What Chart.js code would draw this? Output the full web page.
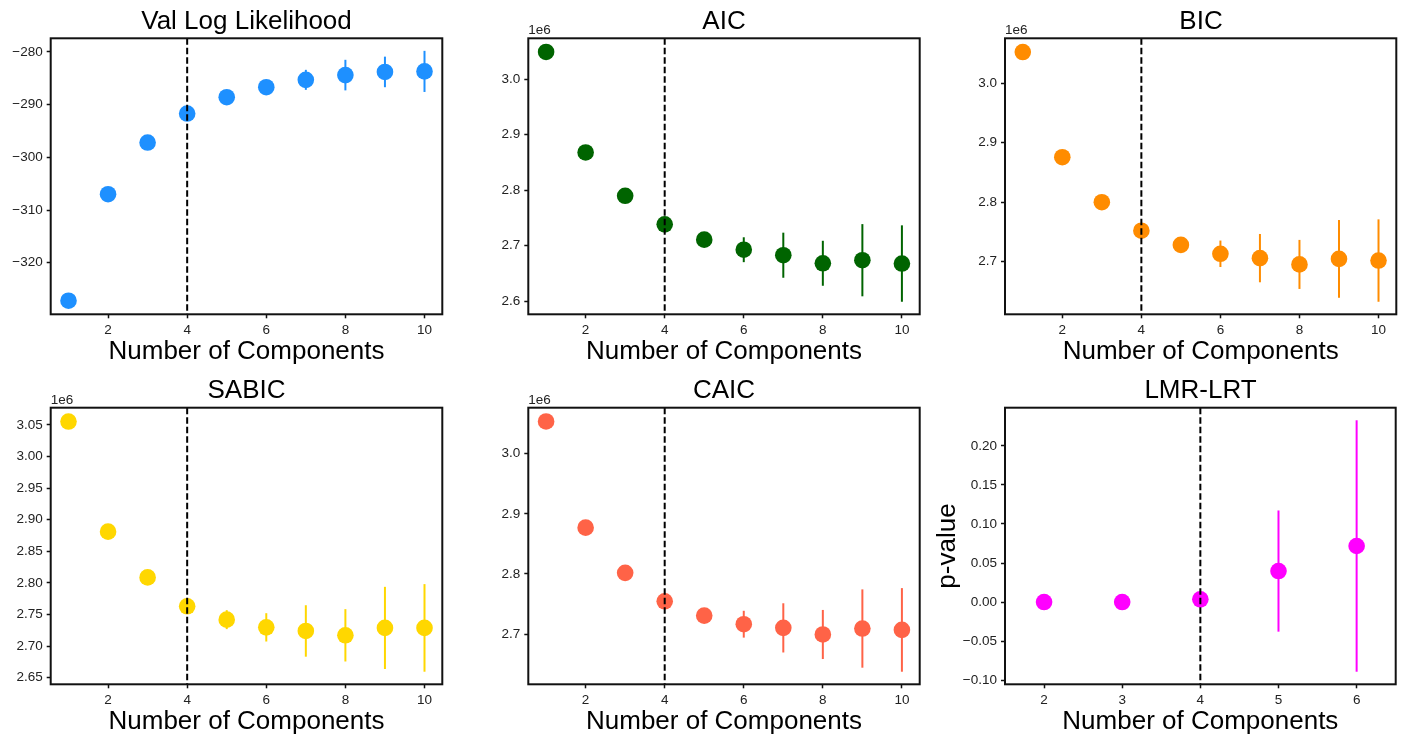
<!DOCTYPE html>
<html>
<head>
<meta charset="utf-8">
<title>Model selection criteria</title>
<script src="https://cdn.jsdelivr.net/npm/chart.js@4.4.1/dist/chart.umd.min.js"></script>
<style>
  body { margin: 0; background: #fff; }
  #wrap { position: relative; width: 1403px; height: 737px; overflow: hidden; background: #fff; }
  #wrap canvas { position: absolute; }
</style>
</head>
<body>
<div id="wrap"></div>
<script>
// ---------- DATA ----------
const components = [1, 2, 3, 4, 5, 6, 7, 8, 9, 10];
const lmrComponents = [2, 3, 4, 5, 6];
const chosenK = 4;

const valLogLik    = [-327.2, -307.0, -297.2, -291.7, -288.6, -286.7, -285.3, -284.4, -283.8, -283.7];
const valLogLikErr = [0.2, 0.2, 0.3, 0.3, 0.5, 0.6, 1.9, 2.9, 2.9, 3.9];

const aic    = [3049000, 2868000, 2790000, 2738600, 2711000, 2692900, 2683000, 2668500, 2674000, 2668000];
const aicErr = [2000, 3000, 4000, 6000, 10000, 22400, 40600, 40500, 65000, 68800];

const bic    = [3052800, 2875600, 2799800, 2751800, 2727900, 2712900, 2705600, 2695000, 2704300, 2701500];
const bicErr = [2000, 3000, 4000, 6000, 10000, 22300, 40700, 41300, 65500, 69400];

const sabic    = [3055200, 2881000, 2808600, 2762900, 2741800, 2729600, 2723900, 2717000, 2728700, 2728700];
const sabicErr = [2000, 3000, 4000, 6000, 15000, 22400, 40700, 41400, 65000, 69300];

const caic    = [3053500, 2877000, 2801900, 2754600, 2730800, 2716500, 2710400, 2699400, 2709300, 2707000];
const caicErr = [2000, 3000, 4000, 6000, 10000, 22300, 40900, 40800, 65100, 69500];

const lmrP    = [0.0, 0.0, 0.0035, 0.0397, 0.0718];
const lmrPErr = [0.0, 0.0, 0.002, 0.0776, 0.161];

// ---------- TICKS ----------
const xTicks = [2, 4, 6, 8, 10];
const lmrXTicks = [2, 3, 4, 5, 6];
const llTicks = [-320, -310, -300, -290, -280];
const aicTicks = [2600000, 2700000, 2800000, 2900000, 3000000];
const bicTicks = [2700000, 2800000, 2900000, 3000000];
const sabicTicks = [2650000, 2700000, 2750000, 2800000, 2850000, 2900000, 2950000, 3000000, 3050000];
const caicTicks = [2700000, 2800000, 2900000, 3000000];
const lmrTicks = [-0.10, -0.05, 0, 0.05, 0.10, 0.15, 0.20];

// ---------- LAYOUT (axes boxes in page pixels) ----------
const FONT = "'Liberation Sans', Arial, 'Helvetica Neue', sans-serif";
const BIG = 26;
const SMALL = 13.5;
const TEXT = "#222";

const panels = [
    { title: "Val Log Likelihood", x: components, y: valLogLik, err: valLogLikErr, color: "#1E90FF",
      xTicks: xTicks, yTicks: llTicks, div: 1, digits: 0, offset: "",
      box: [50.7, 38.3, 442.3, 314.3], yw: 50 },
    { title: "AIC", x: components, y: aic, err: aicErr, color: "#006400",
      xTicks: xTicks, yTicks: aicTicks, div: 1e6, digits: 1, offset: "1e6",
      box: [528.3, 38.3, 919.7, 314.3], yw: 66 },
    { title: "BIC", x: components, y: bic, err: bicErr, color: "#FF8C00",
      xTicks: xTicks, yTicks: bicTicks, div: 1e6, digits: 1, offset: "1e6",
      box: [1005, 38.3, 1396.3, 314.3], yw: 66 },
    { title: "SABIC", x: components, y: sabic, err: sabicErr, color: "#FFD700",
      xTicks: xTicks, yTicks: sabicTicks, div: 1e6, digits: 2, offset: "1e6",
      box: [50.7, 407.7, 442.3, 684.3], yw: 50 },
    { title: "CAIC", x: components, y: caic, err: caicErr, color: "#FF6347",
      xTicks: xTicks, yTicks: caicTicks, div: 1e6, digits: 1, offset: "1e6",
      box: [528.3, 407.7, 919.7, 684.3], yw: 66 },
    { title: "LMR-LRT", x: lmrComponents, y: lmrP, err: lmrPErr, color: "#FF00FF",
      xTicks: lmrXTicks, yTicks: lmrTicks, div: 1, digits: 2, offset: "", yLabel: "p-value",
      xRange: [1.5, 6.5], box: [1005, 407.7, 1395.7, 684.3], yw: 80 }
];

// ---------- HELPERS ----------
function fmt(v, div, digits) {
    const s = (v / div).toFixed(digits);
    return s.startsWith("-") ? "\u2212" + s.slice(1) : s;
}

function padded(lo, hi) {
    const m = (hi - lo) * 0.05;
    return [lo - m, hi + m];
}

// error bars, reference line, spines and offset text
const panelDecor = {
    id: "panelDecor",
    beforeDatasetsDraw(chart) {
        const { ctx, scales: { x, y } } = chart;
        chart.data.datasets.forEach(ds => {
            ctx.save();
            ctx.strokeStyle = ds.backgroundColor;
            ctx.lineWidth = 2;
            ds.data.forEach((pt, i) => {
                const e = ds.errors[i];
                if (!e) return;
                const px = x.getPixelForValue(pt.x);
                ctx.beginPath();
                ctx.moveTo(px, y.getPixelForValue(pt.y - e));
                ctx.lineTo(px, y.getPixelForValue(pt.y + e));
                ctx.stroke();
            });
            ctx.restore();
        });
    },
    afterDatasetsDraw(chart, args, opts) {
        const { ctx, chartArea: a, scales: { x } } = chart;
        ctx.save();
        // dashed line at chosen number of components
        const px = x.getPixelForValue(opts.marker);
        ctx.strokeStyle = "#000";
        ctx.lineWidth = 2;
        ctx.setLineDash([6.5, 3]);
        ctx.beginPath();
        ctx.moveTo(px, a.top);
        ctx.lineTo(px, a.bottom);
        ctx.stroke();
        ctx.setLineDash([]);
        // box
        ctx.lineWidth = 2;
        ctx.strokeStyle = "#111";
        ctx.strokeRect(a.left, a.top, a.right - a.left, a.bottom - a.top);
        // offset text
        if (opts.offset) {
            ctx.fillStyle = TEXT;
            ctx.font = SMALL + "px " + FONT;
            ctx.textAlign = "left";
            ctx.textBaseline = "alphabetic";
            ctx.fillText(opts.offset, a.left, a.top - 4);
        }
        ctx.restore();
    }
};

// ---------- BUILD ----------
const wrap = document.getElementById("wrap");

panels.forEach(p => {
    const [l, t, r, b] = p.box;
    const cl = Math.floor(l - p.yw);
    const ct = Math.floor(t - 38.3);
    const cr = Math.ceil(r + p.yw);   // symmetric so the title centres over the box
    const cb = Math.ceil(b + 56);
    const yw = l - cl, th = t - ct, xh = cb - b, rp = cr - r;

    const canvas = document.createElement("canvas");
    canvas.width = cr - cl;
    canvas.height = cb - ct;
    canvas.style.left = cl + "px";
    canvas.style.top = ct + "px";
    wrap.appendChild(canvas);

    const lows = p.y.map((v, i) => v - p.err[i]);
    const highs = p.y.map((v, i) => v + p.err[i]);
    const [ymin, ymax] = padded(Math.min(...lows), Math.max(...highs));
    const [xmin, xmax] = p.xRange || padded(Math.min(...p.x), Math.max(...p.x));

    const lh = BIG * 1.2;

    new Chart(canvas.getContext("2d"), {
        type: "scatter",
        data: {
            datasets: [{
                data: p.x.map((v, i) => ({ x: v, y: p.y[i] })),
                errors: p.err,
                backgroundColor: p.color,
                pointBackgroundColor: p.color,
                pointBorderWidth: 0,
                pointRadius: 8.3,
                pointHoverRadius: 8.3
            }]
        },
        options: {
            responsive: false,
            animation: false,
            events: [],
            layout: { padding: 0 },
            plugins: {
                legend: { display: false },
                tooltip: { enabled: false },
                title: {
                    display: true,
                    text: p.title,
                    color: "#000",
                    font: { family: FONT, size: BIG, weight: "normal", lineHeight: 1.2 },
                    padding: { top: th - lh - 1, bottom: 1 }
                },
                panelDecor: { marker: chosenK, offset: p.offset }
            },
            scales: {
                x: {
                    type: "linear",
                    min: xmin,
                    max: xmax,
                    afterBuildTicks: s => { s.ticks = p.xTicks.map(v => ({ value: v })); },
                    afterFit: s => { s.height = xh; },
                    border: { display: false },
                    grid: { drawOnChartArea: false, drawTicks: true, tickLength: 4, tickColor: "#111", tickWidth: 1.5 },
                    ticks: {
                        color: TEXT,
                        padding: 3.5,
                        maxRotation: 0,
                        autoSkip: false,
                        font: { family: FONT, size: SMALL, lineHeight: 1.2 },
                        callback: v => fmt(v, 1, 0)
                    },
                    title: {
                        display: true,
                        text: "Number of Components",
                        color: "#000",
                        font: { family: FONT, size: BIG, lineHeight: 1.2 },
                        padding: { top: 0, bottom: xh - 37.8 - lh / 2 }
                    }
                },
                y: {
                    type: "linear",
                    min: ymin,
                    max: ymax,
                    afterBuildTicks: s => { s.ticks = p.yTicks.map(v => ({ value: v })); },
                    afterFit: s => { s.width = yw; },
                    border: { display: false },
                    grid: { drawOnChartArea: false, drawTicks: true, tickLength: 4, tickColor: "#111", tickWidth: 1.5 },
                    ticks: {
                        color: TEXT,
                        padding: 4,
                        autoSkip: false,
                        font: { family: FONT, size: SMALL, lineHeight: 1.2 },
                        callback: v => fmt(v, p.div, p.digits)
                    },
                    title: {
                        display: !!p.yLabel,
                        text: p.yLabel || "",
                        color: "#000",
                        font: { family: FONT, size: BIG, lineHeight: 1.2 },
                        padding: { top: yw - 57.5 - lh / 2, bottom: 0 }
                    }
                },
                // empty right-hand spacer so the chart area sits where the box is
                spacer: {
                    type: "linear",
                    position: "right",
                    display: true,
                    afterFit: s => { s.width = rp; },
                    border: { display: false },
                    grid: { display: false },
                    ticks: { display: false }
                }
            }
        },
        plugins: [panelDecor]
    });
});
</script>
</body>
</html>
